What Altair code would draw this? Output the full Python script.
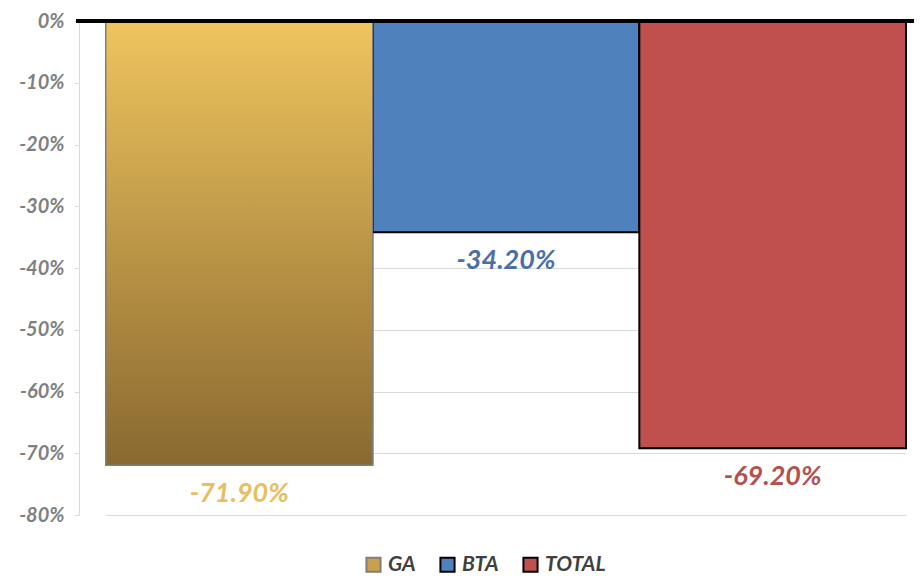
import altair as alt
import pandas as pd

categories = ["GA", "BTA", "Total"]
values = [-71.9, -34.2, -69.2]
bar_colors = ["#C9A04C", "#4F81BD", "#C0504D"]
label_colors = ["#E8BE5E", "#4A6FA8", "#B5504E"]
bar_strokes = ["#7F7F7F", "#000000", "#000000"]
y_ticks = [0, -10, -20, -30, -40, -50, -60, -70, -80]

df = pd.DataFrame({
    "cat": categories,
    "value": values,
    "label": [f"{v:.2f}%" for v in values],
    "lcolor": label_colors,
})

FONT = "Lato"

x = alt.X("cat:N", sort=categories, axis=None,
          scale=alt.Scale(range=[27, 827], paddingInner=0, paddingOuter=0))
y = alt.Y("value:Q",
          scale=alt.Scale(domain=[-80, 0], nice=False),
          axis=alt.Axis(values=y_ticks, labelExpr="datum.value + '%'", title=None,
                        grid=True, gridColor="#D9D9D9", domainColor="#D9D9D9",
                        tickColor="#D9D9D9", tickSize=5, labelPadding=10,
                        labelFont=FONT, labelFontSize=20, labelFontStyle="italic",
                        labelFontWeight="bold", labelColor="#7F7F7F"))

base = alt.Chart(df)

bars = base.mark_bar(strokeWidth=2).encode(
    x=x, y=y,
    fill=alt.Fill("cat:N", title=None,
                  scale=alt.Scale(domain=categories, range=bar_colors),
                  legend=alt.Legend(orient="none", direction="horizontal",
                                    legendX=284, legendY=533,
                                    symbolType="square", symbolSize=200,
                                    symbolStrokeWidth=2, columnPadding=20,
                                    labelFont=FONT, labelFontSize=21,
                                    labelFontStyle="italic", labelFontWeight="bold",
                                    labelColor="#404040", labelOffset=4,
                                    labelExpr="upper(datum.label)")),
    stroke=alt.Stroke("cat:N", title=None,
                      scale=alt.Scale(domain=categories, range=bar_strokes)),
)

ga = base.transform_filter(alt.datum.cat == "GA").mark_bar(
    stroke="#7F7F7F", strokeWidth=1,
    fill=alt.Gradient(gradient="linear",
                      stops=[alt.GradientStop(offset=0, color="#EFC45E"),
                             alt.GradientStop(offset=1, color="#896930")],
                      x1=0, y1=0, x2=0, y2=1),
).encode(x=x, y=y)

labels = base.mark_text(dy=29, baseline="middle", align="center", font=FONT,
                        fontSize=27, fontStyle="italic", fontWeight="bold").encode(
    x=x, y=y, text="label:N",
    color=alt.Color("lcolor:N", scale=None),
)

zero = alt.Chart(pd.DataFrame({"v": [0]})).mark_rule(color="black", strokeWidth=4).encode(
    y=alt.Y("v:Q", scale=alt.Scale(domain=[-80, 0], nice=False)),
    x=alt.value(-3), x2=alt.value(835),
)

chart = alt.layer(bars, ga, labels, zero).properties(
    width=835, height=494,
    autosize=alt.AutoSizeParams(type="none"),
    padding={"left": 71, "top": 13, "right": 0, "bottom": 59},
).configure_view(stroke=None)

chart.save("out.html", embed_options={"renderer": "svg", "actions": False})
